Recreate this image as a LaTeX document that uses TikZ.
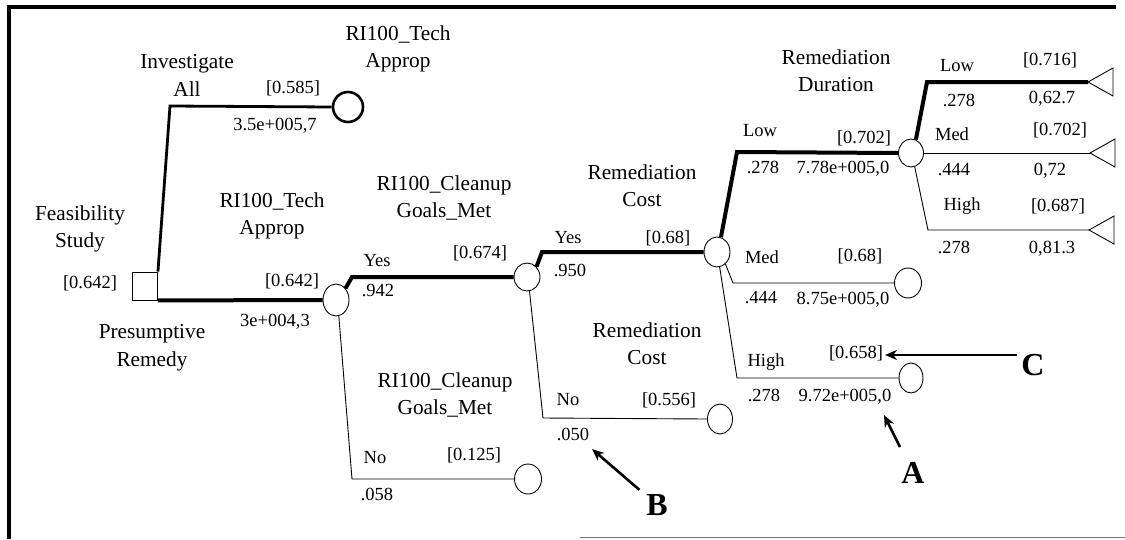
\documentclass[tikz,border=0pt]{standalone}
\usepackage{fontspec}
\setmainfont{Liberation Serif}
\usetikzlibrary{shapes.geometric,arrows.meta}
\begin{document}
\begin{tikzpicture}[x=1pt,y=-1pt,
  ttl/.style={font=\fontsize{21.3}{27.5}\selectfont, align=center, anchor=north, inner sep=0pt},
  lbl/.style={font=\fontsize{18.5}{22}\selectfont, inner sep=0pt, text height=0.68em, text depth=0pt},
  big/.style={font=\fontsize{32}{34}\selectfont\bfseries, inner sep=0pt},
  chance/.style={draw, ellipse, line width=0.9pt, inner sep=0pt},
  thinln/.style={line width=0.9pt},
  best/.style={line width=4pt},
  midln/.style={line width=2.8pt},
  arr/.style={line width=2.6pt, -{Stealth[length=12pt,width=10pt]}},
  fr/.style={line width=3.2pt}
]
\useasboundingbox (0,0) rectangle (1125,539);
% frame
\draw[fr] (9,539) -- (9,7) -- (1116,7);
\draw[line width=1.2pt, black!55] (580,537.5) -- (1125,537.5);

% decision and chance nodes
\node[draw, line width=0.9pt, minimum width=25pt, minimum height=28pt, inner sep=0pt] (sq) at (145,286) {};
\node[chance, line width=2.6pt, minimum width=30pt, minimum height=30pt] (c1) at (348,107) {};
\node[chance, minimum width=26pt, minimum height=32pt] (c2) at (336,300) {};
\node[chance, minimum width=26pt, minimum height=28pt] (c3) at (527,277) {};
\node[chance, minimum width=27pt, minimum height=30pt] (c4) at (528,479) {};
\node[chance, minimum width=26pt, minimum height=30pt] (c5) at (717,252) {};
\node[chance, minimum width=25pt, minimum height=30pt] (c6) at (720,419) {};
\node[chance, minimum width=25pt, minimum height=28pt] (c7) at (911,153) {};
\node[chance, minimum width=27pt, minimum height=30pt] (c8) at (908,283) {};
\node[chance, minimum width=24pt, minimum height=30pt] (c9) at (911,378) {};

% terminal triangles
\coordinate (t1) at (1088,82);
\coordinate (t2) at (1090,153);
\coordinate (t3) at (1089,230);
\foreach \t in {t1,t2,t3} \draw[thinln] (\t) -- ++(25,-14) -- ++(0,28) -- cycle;

% bend points
\coordinate (bIA) at (170,106);
\coordinate (b2y) at (352,277);
\coordinate (b2n) at (352,479);
\coordinate (b3y) at (542,252);
\coordinate (b3n) at (543,418);
\coordinate (b5l) at (737,152);
\coordinate (b5m) at (733,283);
\coordinate (b5h) at (737,378);
\coordinate (b7l) at (927,82);
\coordinate (b7h) at (928,230);

% branches
\draw[midln] (sq.north east) -- (bIA) -- (c1.west);
\draw[best] (sq.south east) -- (c2.west);
\draw[best] (c2.north east) -- (b2y) -- (c3.west);
\draw[thinln] (c2.-80) -- (b2n) -- (c4.west);
\draw[best] (c3.north east) -- (b3y) -- (c5.west);
\draw[thinln] (c3.-80) -- (b3n) -- (c6.west);
\draw[best] (c5.75) -- (b5l) -- (c7.west);
\draw[thinln] (c5.-55) -- (b5m) -- (c8.west);
\draw[thinln] (c5.-80) -- (b5h) -- (c9.west);
\draw[best] (c7.70) -- (b7l) -- (t1);
\draw[thinln] (c7.east) -- (t2);
\draw[thinln] (c7.-75) -- (b7h) -- (t3);

% titles
\node[ttl] (tIA) at (187,54.5) {Investigate\\All};
\node[ttl] (tTA1) at (398,25.5) {RI100\_Tech\\Approp};
\node[ttl] (tFS) at (80,205.5) {Feasibility\\Study};
\node[ttl] (tPR) at (152,324.5) {Presumptive\\Remedy};
\node[ttl] (tTA2) at (272,192.5) {RI100\_Tech\\Approp};
\node[ttl] (tCG1) at (444,175.5) {RI100\_Cleanup\\Goals\_Met};
\node[ttl] (tCG2) at (445,372.5) {RI100\_Cleanup\\Goals\_Met};
\node[ttl] (tRC1) at (642,164.5) {Remediation\\Cost};
\node[ttl] (tRC2) at (647,322.5) {Remediation\\Cost};
\node[ttl] (tRD) at (836,49.5) {Remediation\\Duration};

% labels
\node[lbl] (l1) at (293,90) {[0.585]};
\node[lbl] (l2) at (275,127) {3.5e+005,7};
\node[lbl] (l3) at (90,285) {[0.642]};
\node[lbl] (l4) at (292,283) {[0.642]};
\node[lbl] (l5) at (275,323) {3e+004,3};
\node[lbl] (l6) at (377,263) {Yes};
\node[lbl] (l7) at (378,293) {.942};
\node[lbl] (l8) at (480,255) {[0.674]};
\node[lbl] (l9) at (375,460) {No};
\node[lbl] (l10) at (474,457) {[0.125]};
\node[lbl] (l11) at (377,497) {.058};
\node[lbl] (l12) at (568,240) {Yes};
\node[lbl] (l13) at (668,240) {[0.68]};
\node[lbl] (l14) at (570,273) {.950};
\node[lbl] (l15) at (568,402) {No};
\node[lbl] (l16) at (669,402) {[0.556]};
\node[lbl] (l17) at (573,437) {.050};
\node[lbl] (l18) at (760,133) {Low};
\node[lbl] (l19) at (864,140) {[0.702]};
\node[lbl] (l20) at (763,170) {.278};
\node[lbl] (l21) at (843,170) {7.78e+005,0};
\node[lbl] (l22) at (762,260) {Med};
\node[lbl] (l23) at (860,258) {[0.68]};
\node[lbl] (l24) at (761,300) {.444};
\node[lbl] (l25) at (843,301) {8.75e+005,0};
\node[lbl] (l26) at (766,363) {High};
\node[lbl] (l27) at (856,355) {[0.658]};
\node[lbl] (l28) at (764,398) {.278};
\node[lbl] (l29) at (845,398) {9.72e+005,0};
\node[lbl] (l30) at (957,68) {Low};
\node[lbl] (l31) at (1050,62) {[0.716]};
\node[lbl] (l32) at (959,103) {.278};
\node[lbl] (l33) at (1052,100) {0,62.7};
\node[lbl] (l34) at (952,137) {Med};
\node[lbl] (l35) at (1060,132) {[0.702]};
\node[lbl] (l36) at (954,172) {.444};
\node[lbl] (l37) at (1050,172) {0,72};
\node[lbl] (l38) at (962,207) {High};
\node[lbl] (l39) at (1058,208) {[0.687]};
\node[lbl] (l40) at (954,250) {.278};
\node[lbl] (l41) at (1052,250) {0,81.3};

% callouts
\node[big] (A) at (913,473) {A};
\node[big] (B) at (657,505) {B};
\node[big] (C) at (1033,365) {C};
\coordinate (aTip) at (884,415);
\coordinate (bTip) at (592,449);
\coordinate (cTip) at (885,355);
\draw[arr, shorten <=17pt] (A) -- (aTip);
\draw[arr, shorten <=9pt] (B) -- (bTip);
\draw[arr, shorten <=4pt] (cTip -| C.west) -- (cTip);
\end{tikzpicture}
\end{document}
